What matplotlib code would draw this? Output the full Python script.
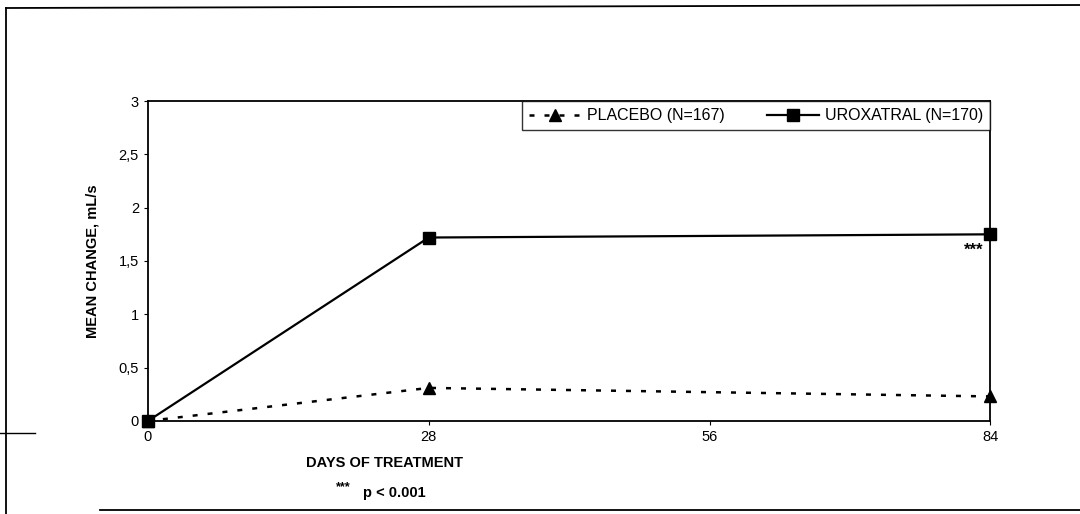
import matplotlib.pyplot as plt
from matplotlib.lines import Line2D

plt.rcParams['font.family'] = ['Liberation Sans', 'DejaVu Sans']

# data
days = [0, 28, 84]
placebo = [0.0, 0.31, 0.23]
uroxatral = [0.0, 1.72, 1.75]
yticks = [0, 0.5, 1, 1.5, 2, 2.5, 3]
ytick_labels = ["0", "0,5", "1", "1,5", "2", "2,5", "3"]
xticks = [0, 28, 56, 84]

fig = plt.figure(figsize=(10.8, 5.14), dpi=100)
ax = fig.add_axes([0.137, 0.181, 0.78, 0.6225])

ax.plot(days, placebo, color="black", linestyle=(0, (2, 4)), linewidth=1.8,
        marker="^", markersize=8, label="PLACEBO (N=167)", clip_on=False)
ax.plot(days, uroxatral, color="black", linestyle="-", linewidth=1.6,
        marker="s", markersize=8, label="UROXATRAL (N=170)", clip_on=False)

ax.set_xlim(0, 84)
ax.set_ylim(0, 3)
ax.set_xticks(xticks)
ax.set_xticklabels([str(t) for t in xticks], fontsize=10.5)
ax.set_yticks(yticks)
ax.set_yticklabels(ytick_labels, fontsize=10.5)
ax.tick_params(axis="both", length=3, width=0.8, colors="black")
for s in ax.spines.values():
    s.set_linewidth(1.3)

ax.set_ylabel("MEAN CHANGE, mL/s", fontsize=10.5, fontweight="bold", labelpad=14)

leg = ax.legend(loc="upper right", bbox_to_anchor=(1.0, 1.0), ncol=2,
                frameon=True, fancybox=False, fontsize=11.5, handlelength=3.3,
                borderpad=0.45, columnspacing=2.6, handletextpad=0.35,
                borderaxespad=0)
leg.get_frame().set_edgecolor("black")
leg.get_frame().set_linewidth(1.0)

ax.text(83.3, 1.6, "***", fontsize=12, fontweight="bold", ha="right", va="center")

fig.text(385 / 1080, 1 - 463 / 514, "DAYS OF TREATMENT", fontsize=10.5,
         fontweight="bold", ha="center", va="center")
fig.text(343 / 1080, 1 - 487 / 514, "***", fontsize=9, fontweight="bold",
         ha="center", va="center")
fig.text(363 / 1080, 1 - 493 / 514, "p < 0.001", fontsize=10.5,
         fontweight="bold", ha="left", va="center")

# outer frame pieces of the scanned page
fig.add_artist(Line2D([6 / 1080, 6 / 1080], [1 - 8 / 514, 0], color="black", lw=1.3))
fig.add_artist(Line2D([6 / 1080, 1], [1 - 8 / 514, 1 - 5 / 514], color="black", lw=1.3))
fig.add_artist(Line2D([100 / 1080, 1], [1 - 510 / 514, 1 - 510 / 514], color="black", lw=1.3))
fig.add_artist(Line2D([0, 35 / 1080], [1 - 433 / 514, 1 - 433 / 514], color="black", lw=1.0))

fig.savefig("out.png", dpi=100, facecolor="white")
